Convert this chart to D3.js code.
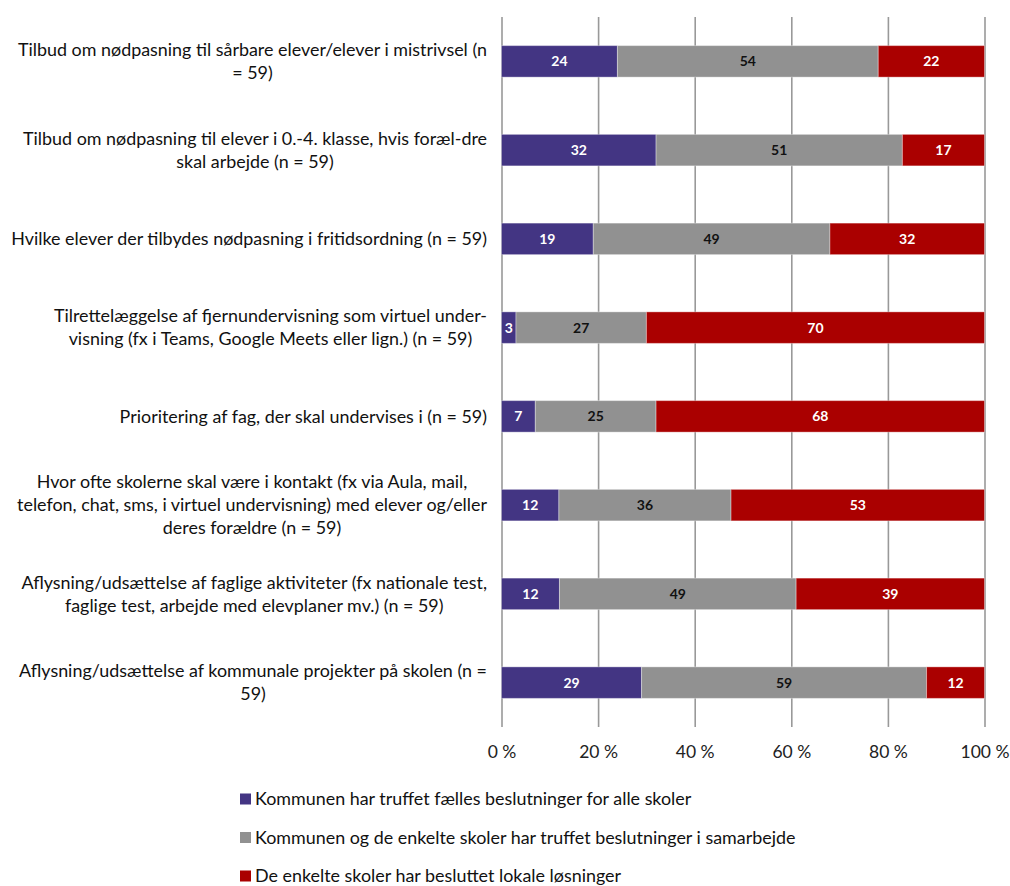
<!DOCTYPE html>
<html><head><meta charset="utf-8">
<script src="https://cdn.jsdelivr.net/npm/d3@7"></script>
<style>
body{margin:0;background:#fff;}
svg text{font-family:"Lato","Noto Sans",sans-serif;}
</style></head>
<body><svg id="c" width="1010" height="886"></svg>
<script>
const categories = [
  ["Tilbud om nødpasning til sårbare elever/elever i mistrivsel (n", "= 59)"],
  ["Tilbud om nødpasning til elever i 0.-4. klasse, hvis foræl-dre", "skal arbejde (n = 59)"],
  ["Hvilke elever der tilbydes nødpasning i fritidsordning (n = 59)"],
  ["Tilrettelæggelse af fjernundervisning som virtuel under-", "visning (fx i Teams, Google Meets eller lign.) (n = 59)"],
  ["Prioritering af fag, der skal undervises i (n = 59)"],
  ["Hvor ofte skolerne skal være i kontakt (fx via Aula, mail,", "telefon, chat, sms, i virtuel undervisning) med elever og/eller", "deres forældre (n = 59)"],
  ["Aflysning/udsættelse af faglige aktiviteter (fx nationale test,", "faglige test, arbejde med elevplaner mv.) (n = 59)"],
  ["Aflysning/udsættelse af kommunale projekter på skolen (n =", "59)"]
];
const seriesNames = [
  "Kommunen har truffet fælles beslutninger for alle skoler",
  "Kommunen og de enkelte skoler har truffet beslutninger i samarbejde",
  "De enkelte skoler har besluttet lokale løsninger"
];
const kommunen = [24, 32, 19, 3, 7, 12, 12, 29];
const samarbejde = [54, 51, 49, 27, 25, 36, 49, 59];
const lokale = [22, 17, 32, 70, 68, 53, 39, 12];
const tickValues = [0, 20, 40, 60, 80, 100];
const tickLabels = ["0 %", "20 %", "40 %", "60 %", "80 %", "100 %"];
const colors = ["#433583", "#919191", "#aa0000"];
const labelColors = ["#ffffff", "#111111", "#ffffff"];

const svg = d3.select("#c");
const x = d3.scaleLinear().domain([0, 100]).range([501.5, 984.5]);
const y = d3.scaleBand().domain(d3.range(categories.length)).range([17, 727]).paddingInner(0.645).paddingOuter(0.3225);

const axis = d3.axisBottom(x).tickValues(tickValues).tickFormat((d,i)=>tickLabels[i]).tickSize(-710).tickPadding(19);
const ag = svg.append("g").attr("transform","translate(0,727)").call(axis);
ag.select(".domain").remove();
ag.selectAll(".tick line").attr("stroke","#999").attr("stroke-width",1.6);
ag.selectAll(".tick text").attr("fill","#222").style("font-size","17.5px").style("font-family",'"Lato","Noto Sans",sans-serif');

const rows = categories.map((c,i)=>{
  const vals=[kommunen[i], samarbejde[i], lokale[i]];
  const tot=d3.sum(vals);
  let acc=0;
  return vals.map((v,k)=>{const s=acc/tot*100; acc+=v; return {i,k,v,x0:s,x1:acc/tot*100};});
});
const segs = rows.flat();

svg.append("g").selectAll("rect").data(segs).join("rect")
  .attr("x",d=>x(d.x0)).attr("width",d=>x(d.x1)-x(d.x0))
  .attr("y",d=>y(d.i)).attr("height",y.bandwidth())
  .attr("fill",d=>colors[d.k])
  .attr("stroke","rgba(255,255,255,0.35)").attr("stroke-width",1);

svg.append("g").selectAll("text").data(segs).join("text")
  .attr("x",d=>(x(d.x0)+x(d.x1))/2).attr("y",d=>y(d.i)+y.bandwidth()/2)
  .attr("dy","0.36em").attr("text-anchor","middle")
  .attr("fill",d=>labelColors[d.k]).style("font-size","14px").style("font-weight","bold")
  .text(d=>d.v);

const lineH = 23;
const rightEdge = 487;
const cg = svg.append("g");
categories.forEach((lines,i)=>{
  const cy = y(i)+y.bandwidth()/2;
  const g = cg.append("g");
  const texts = lines.map((t,j)=>g.append("text")
    .attr("y", cy + (j-(lines.length-1)/2)*lineH).attr("dy","0.35em")
    .attr("fill","#111").style("font-size","17.9px").text(t));
  const widths = texts.map(t=>t.node().getComputedTextLength());
  const maxW = d3.max(widths);
  const cx = rightEdge - maxW/2;
  texts.forEach(t=>t.attr("x",cx).attr("text-anchor","middle"));
});

const lg = svg.append("g");
const legY = [799, 837.5, 876];
seriesNames.forEach((n,k)=>{
  lg.append("rect").attr("x",240).attr("y",legY[k]-5.5).attr("width",11).attr("height",11).attr("fill",colors[k]);
  lg.append("text").attr("x",255).attr("y",legY[k]).attr("dy","0.35em").attr("fill","#111").style("font-size","17.9px").text(n);
});
</script></body></html>
